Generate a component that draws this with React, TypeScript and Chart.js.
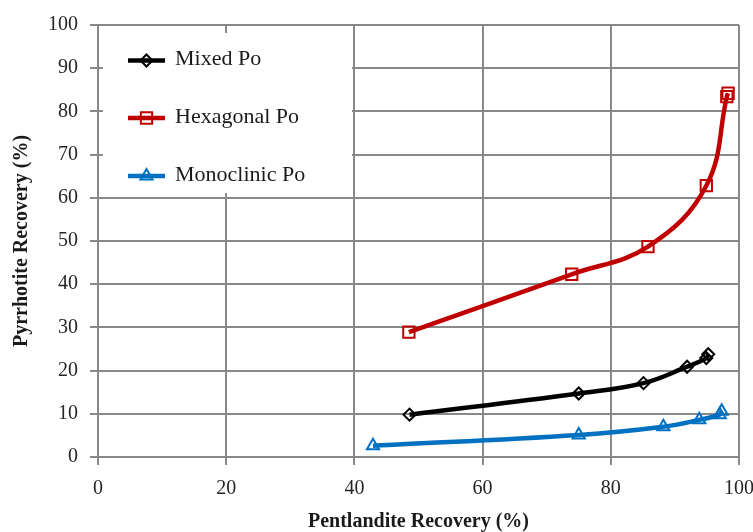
import React, { useEffect, useRef } from 'react';
import { Chart, registerables } from 'chart.js';
import { drawPoint } from 'chart.js/helpers';

Chart.register(...registerables);

const seriesNames = ['Mixed Po', 'Hexagonal Po', 'Monoclinic Po'];
const seriesColors = ['#000000', '#C00000', '#0070C0'];
const seriesMarkers = ['rectRot', 'rect', 'triangle'];
const seriesMarkerRadius = [6, 8, 7];

const mixedX = [48.6, 75.0, 85.1, 91.9, 94.9, 95.2];
const mixedY = [9.8, 14.7, 17.1, 20.9, 22.9, 23.8];
const hexX = [48.5, 73.9, 85.8, 94.9, 98.1, 98.3];
const hexY = [28.9, 42.3, 48.7, 62.8, 83.4, 84.2];
const monoX = [42.9, 75.0, 88.2, 93.8, 97.0, 97.3];
const monoY = [2.6, 5.1, 7.0, 8.6, 9.8, 10.6];

const xTickValues = [0, 20, 40, 60, 80, 100];
const yTickValues = [0, 10, 20, 30, 40, 50, 60, 70, 80, 90, 100];

const xTitle = 'Pentlandite Recovery (%)';
const yTitle = 'Pyrrhotite Recovery (%)';

const FONT = '"Liberation Serif", "Times New Roman", serif';
const GRID = '#898989';

const toPoints = (xs: number[], ys: number[]) => xs.map((x, i) => ({ x, y: ys[i] }));

const legendBox = {
  id: 'legendBox',
  beforeDatasetsDraw(chart: any) {
    const { ctx, chartArea } = chart;
    ctx.save();
    ctx.fillStyle = '#ffffff';
    ctx.fillRect(chartArea.left + 5, chartArea.top + 8, 249, 160);
    const rows = [35.5, 93, 151];
    chart.data.datasets.forEach((ds: any, i: number) => {
      const y = chartArea.top + rows[i];
      const x0 = chartArea.left + 30;
      const x1 = chartArea.left + 67;
      ctx.strokeStyle = ds.borderColor;
      ctx.lineWidth = 4.5;
      ctx.lineCap = 'butt';
      ctx.beginPath();
      ctx.moveTo(x0, y);
      ctx.lineTo(x1, y);
      ctx.stroke();
      ctx.fillStyle = 'rgba(0,0,0,0)';
      ctx.strokeStyle = ds.borderColor;
      ctx.lineWidth = 2;
      drawPoint(ctx, { pointStyle: ds.pointStyle, radius: ds.pointRadius, borderWidth: 2, rotation: 0 } as any, (x0 + x1) / 2, y);
      ctx.fillStyle = '#1a1a1a';
      ctx.font = `22px ${FONT}`;
      ctx.textAlign = 'left';
      ctx.textBaseline = 'middle';
      ctx.fillText(ds.label, chartArea.left + 77, y - 1);
    });
    ctx.restore();
  },
};

export default function App() {
  const canvasRef = useRef<HTMLCanvasElement | null>(null);

  useEffect(() => {
    document.body.style.margin = '0';
    const canvas = canvasRef.current;
    if (!canvas) return;
    const allX = [mixedX, hexX, monoX];
    const allY = [mixedY, hexY, monoY];
    const chart = new Chart(canvas, {
      type: 'scatter',
      data: {
        datasets: seriesNames.map((name, i) => ({
          label: name,
          data: toPoints(allX[i], allY[i]),
          showLine: true,
          borderColor: seriesColors[i],
          borderWidth: 4.5,
          tension: 0.4,
          pointStyle: seriesMarkers[i] as any,
          pointRadius: seriesMarkerRadius[i],
          pointBorderWidth: 2,
          pointBorderColor: seriesColors[i],
          pointBackgroundColor: 'rgba(0,0,0,0)',
        })),
      },
      options: {
        responsive: false,
        animation: false,
        devicePixelRatio: 1,
        layout: { padding: { left: 0, top: 25, right: 14, bottom: 0 } },
        plugins: {
          legend: { display: false },
          tooltip: { enabled: false },
        },
        scales: {
          x: {
            type: 'linear',
            min: 0,
            max: 100,
            afterBuildTicks: (scale: any) => {
              scale.ticks = xTickValues.map((v) => ({ value: v }));
            },
            afterFit: (scale: any) => {
              scale.height = 75;
              scale.paddingLeft = 0;
              scale.paddingRight = 0;
            },
            ticks: {
              font: { family: FONT, size: 20 },
              color: '#262626',
              padding: 12,
              maxRotation: 0,
            },
            grid: { color: GRID, lineWidth: 2, tickLength: 8, drawTicks: true },
            border: { color: GRID, width: 2 },
            title: {
              display: true,
              text: xTitle,
              font: { family: FONT, size: 20, weight: 'bold' },
              color: '#1a1a1a',
              padding: { top: 0, bottom: -2 },
            },
          },
          y: {
            type: 'linear',
            min: 0,
            max: 100,
            afterBuildTicks: (scale: any) => {
              scale.ticks = yTickValues.map((v) => ({ value: v }));
            },
            afterFit: (scale: any) => {
              scale.width = 98;
              scale.paddingTop = 0;
              scale.paddingBottom = 0;
            },
            ticks: {
              font: { family: FONT, size: 20 },
              color: '#262626',
              padding: 12,
            },
            grid: { color: GRID, lineWidth: 2, tickLength: 8, drawTicks: true },
            border: { color: GRID, width: 2 },
            title: {
              display: true,
              text: yTitle,
              font: { family: FONT, size: 20, weight: 'bold' },
              color: '#1a1a1a',
              padding: { top: 10, bottom: 0 },
            },
          },
        },
      },
      plugins: [legendBox],
    });
    return () => chart.destroy();
  }, []);

  return (
    <div style={{ width: 753, height: 532 }}>
      <canvas ref={canvasRef} width={753} height={532} style={{ display: 'block' }} />
    </div>
  );
}
